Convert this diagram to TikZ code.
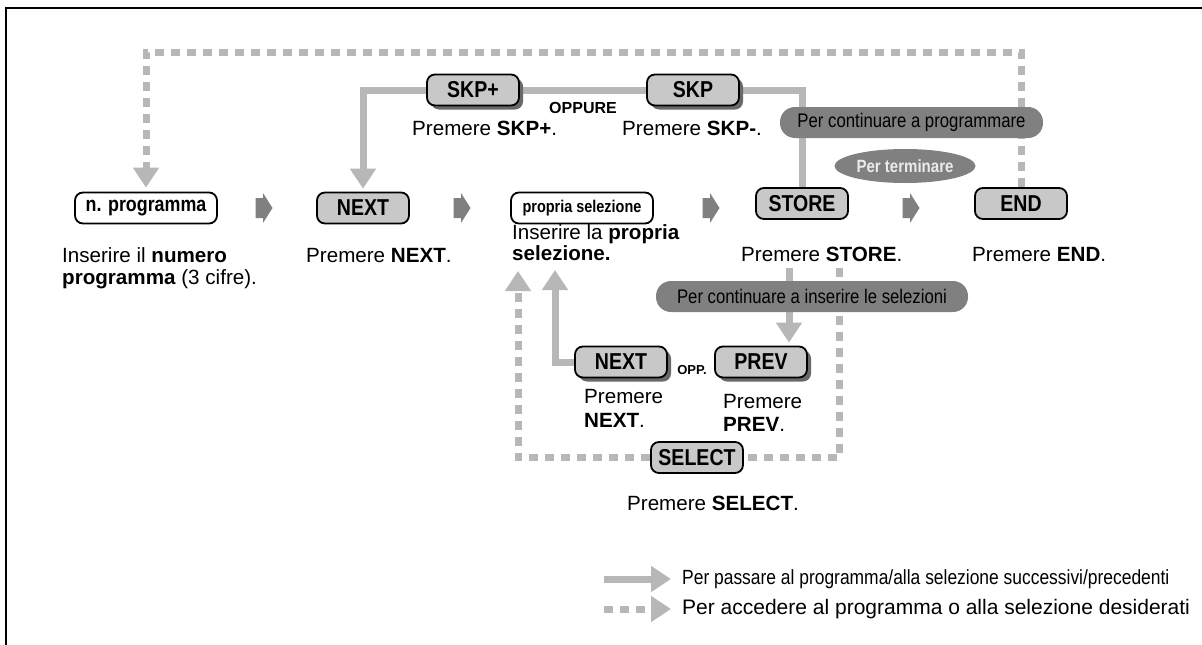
\documentclass[tikz,border=0pt]{standalone}
\usepackage{fontspec}
\setmainfont{Liberation Sans}
\newfontfamily\keyfont[FakeStretch=0.85]{Liberation Sans}
\usetikzlibrary{arrows.meta,shadows,shapes.geometric,backgrounds}

\definecolor{keyfill}{RGB}{200,200,200}
\definecolor{linegray}{RGB}{183,183,183}
\definecolor{pillgray}{RGB}{128,128,128}
\definecolor{shadowgray}{RGB}{105,105,105}

\tikzset{
  key/.style={draw, line width=1.8pt, rounded corners=8pt, fill=keyfill,
    minimum width=92pt, minimum height=31pt, inner sep=0pt,
    font=\keyfont\bfseries\fontsize{23}{23}\selectfont},
  keyshadow/.style={key, drop shadow={shadow xshift=4pt, shadow yshift=-4pt,
    fill=shadowgray, opacity=1}},
  entry/.style={key, fill=white, minimum width=142pt,
    font=\keyfont\bfseries\fontsize{21}{21}\selectfont},
  pill/.style={fill=pillgray, rounded corners=15pt, minimum height=31pt,
    inner sep=0pt, font=\keyfont\fontsize{19.7}{19.7}\selectfont},
  flow/.style={draw=linegray, line width=7pt},
  jump/.style={flow, dash pattern=on 9pt off 7pt},
  tip/.style={-{Triangle[length=20pt 0 0, width=25pt 0 0]}},
  txt/.style={anchor=base west, inner sep=0pt, align=left,
    font=\fontsize{20.6}{22}\selectfont},
  chevron/.pic={\fill[pillgray] (-8.5,-10) -- (-1,-10) -- (-1,-15) -- (8.5,0)
    -- (-1,15) -- (-1,10) -- (-8.5,10) -- cycle;},
}

\begin{document}
\begin{tikzpicture}[x=1pt, y=-1pt]
  \useasboundingbox (0,0) rectangle (1202,645);
  % cornice
  \draw[line width=2.5pt] (6,650) -- (6,8) -- (1210,8);

  % riga principale
  \node[entry] (prog) at (146,208) {n. programma};
  \node[key] (next) at (363,208) {NEXT};
  \node[entry, font=\keyfont\bfseries\fontsize{17}{17}\selectfont] (sel) at (582,208) {propria selezione};
  \node[key] (store) at (802,203.5) {STORE};
  \node[key] (endk) at (1021,203.5) {END};
  \foreach \x in {264,462,711,911}
    \pic at (\x,208) {chevron};

  % tasti SKP
  \node[keyshadow] (skpplus) at (473,90) {SKP+};
  \node[keyshadow] (skp) at (693,90) {SKP};
  \node[anchor=base, font=\bfseries\fontsize{16}{16}\selectfont] (oppure) at (583,113.5) {OPPURE};

  % tasti in basso
  \node[keyshadow] (next2) at (621,362) {NEXT};
  \node[keyshadow] (prev) at (761,362) {PREV};
  \node[anchor=base, font=\bfseries\fontsize{13}{13}\selectfont] (opp) at (692,374) {OPP.};
  \node[key] (select) at (697,457.5) {SELECT};

  % etichette grigie
  \node[pill, minimum width=263pt] (progpill) at (911.5,122.5) {Per continuare a programmare};
  \node[ellipse, fill=pillgray, minimum width=141pt, minimum height=34pt, inner sep=0pt,
    text=white!92!black, font=\keyfont\bfseries\fontsize{17.7}{17.7}\selectfont] (endpill) at (905,166) {Per terminare};
  \node[pill, minimum width=312pt] (selpill) at (812,296.5) {Per continuare a inserire le selezioni};

  % testi (base = ultima riga)
  \node[txt] (progtxt) at (62,284) {Inserire il \textbf{numero}\\\textbf{programma} (3 cifre).};
  \node[txt] (nexttxt) at (306,262) {Premere \textbf{NEXT}.};
  \node[txt, font=\fontsize{20.6}{15}\selectfont] (seltxt) at (512,260) {Inserire la \textbf{propria}\\\textbf{selezione.}};
  \node[txt] (storetxt) at (741,261) {Premere \textbf{STORE}.};
  \node[txt] (endtxt) at (972,261) {Premere \textbf{END}.};
  \node[txt] (skpplustxt) at (412,135) {Premere \textbf{SKP+}.};
  \node[txt] (skptxt) at (622,135) {Premere \textbf{SKP-}.};
  \node[txt, font=\fontsize{20.6}{24}\selectfont] (next2txt) at (584,427) {Premere\\\textbf{NEXT}.};
  \node[txt, font=\fontsize{20.6}{23}\selectfont] (prevtxt) at (723,431) {Premere\\\textbf{PREV}.};
  \node[anchor=base, inner sep=0pt, font=\fontsize{20.6}{22}\selectfont] (selecttxt) at (713,510) {Premere \textbf{SELECT}.};

  % punti di passaggio
  \coordinate (topR) at (1021,52);
  \coordinate (storeout) at (789,268);
  \coordinate (dstart) at (839,268);
  \coordinate (tipA) at (518,271);
  \coordinate (tipB) at (555,270);

  % collegamenti (dietro ai tasti)
  \begin{scope}[on background layer]
    \draw[jump, tip, shorten >=4pt] (endk.north) -- (topR) -| (prog.north);
    \draw[flow, tip, shorten >=3pt] (skpplus.west) -| (next.north);
    \draw[flow] (skpplus.east) -- (skp.west);
    \draw[flow] (skp.east) -| (store.north);
    \draw[flow, tip, shorten >=3pt] (storeout) -- (storeout |- prev.north);
    \draw[jump, tip] (dstart) |- (select) -| (tipA);
    \draw[flow, tip] (next2.west) -| (tipB);
  \end{scope}

  % legenda
  \coordinate (legA1) at (604,579);
  \coordinate (legA2) at (671,579);
  \coordinate (legB1) at (604,609);
  \coordinate (legB2) at (671,609);
  \draw[flow, tip] (legA1) -- (legA2);
  \draw[jump, tip] (legB1) -- (legB2);
  \node[anchor=west, inner sep=0pt, font=\keyfont\fontsize{20.5}{20.5}\selectfont] (legtxtA) at (682,579) {Per passare al programma/alla selezione successivi/precedenti};
  \node[anchor=west, inner sep=0pt, font=\fontsize{21}{21}\selectfont] (legtxtB) at (682,609) {Per accedere al programma o alla selezione desiderati};
\end{tikzpicture}
\end{document}
